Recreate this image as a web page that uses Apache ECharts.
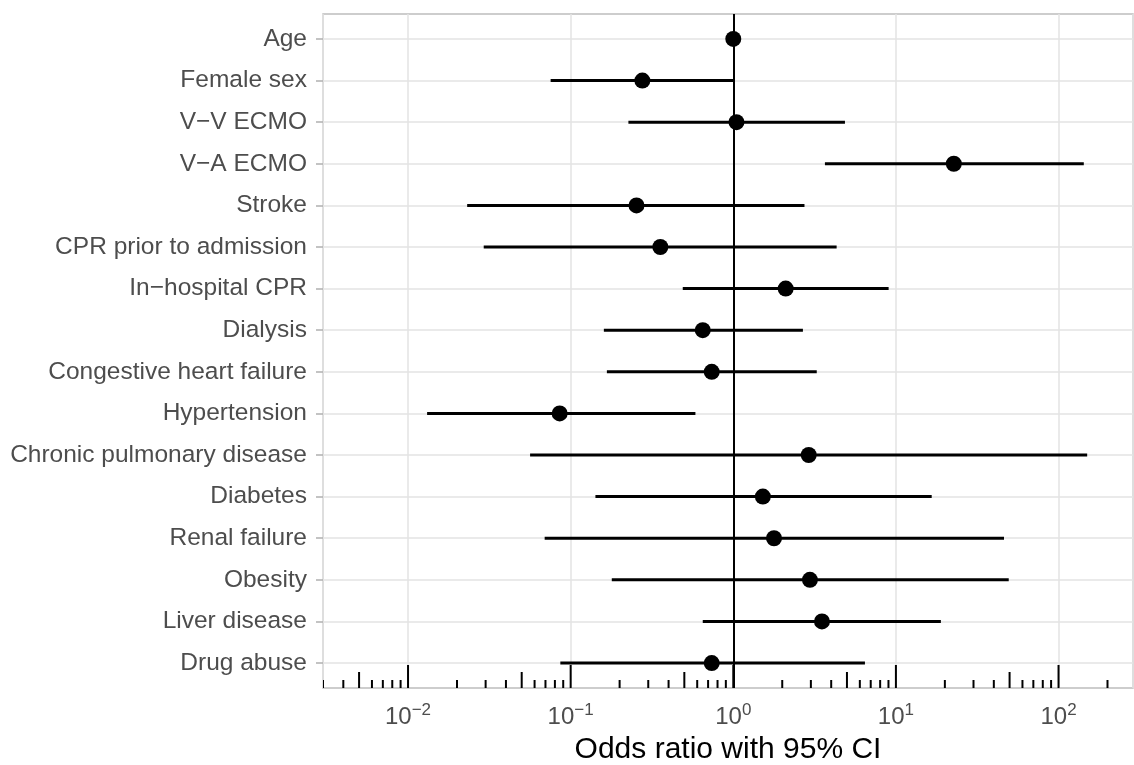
<!DOCTYPE html>
<html>
<head>
<meta charset="utf-8">
<script src="https://cdn.jsdelivr.net/npm/echarts@6.0.0/dist/echarts.min.js"></script>
<style>
  html, body { margin: 0; background: #fff; }
  #chart { width: 1134px; height: 765px; }
</style>
</head>
<body>
<div id="chart"></div>
<script>
// 数据
var categories = ['Age', 'Female sex', 'V\u2212V ECMO', 'V\u2212A ECMO', 'Stroke', 'CPR prior to admission',
  'In\u2212hospital CPR', 'Dialysis', 'Congestive heart failure', 'Hypertension', 'Chronic pulmonary disease',
  'Diabetes', 'Renal failure', 'Obesity', 'Liver disease', 'Drug abuse'];
var oddsRatio = [1.0, 0.276, 1.046, 22.7, 0.254, 0.356, 2.10, 0.649, 0.737, 0.0856, 2.91, 1.52, 1.78, 2.96, 3.51, 0.737];
var ciLow = [0.985, 0.0753, 0.2265, 3.66, 0.0231, 0.0292, 0.489, 0.160, 0.167, 0.0131, 0.0563, 0.142, 0.0692, 0.179, 0.649, 0.0864];
var ciHigh = [1.015, 1.003, 4.86, 143, 2.74, 4.32, 9.02, 2.68, 3.26, 0.585, 150, 16.6, 46.2, 49.4, 18.9, 6.45];
var decadeExponents = [-3, -2, -1, 0, 1, 2];
var tickMultipliers = [1, 2, 3, 4, 5, 6, 7, 8, 9];

var xMin = 0.003, xMax = 287;
var font = '"Liberation Sans", Arial, Helvetica, sans-serif';

var rowIdx = categories.map(function (c, i) { return i; });

// log ticks (annotation_logticks)
var logTicks = [];
decadeExponents.forEach(function (e) {
  tickMultipliers.forEach(function (m) {
    var v = m * Math.pow(10, e);
    if (v >= xMin * 0.999 && v <= xMax) logTicks.push([v, m]);
  });
});

var myChart = echarts.init(document.getElementById('chart'));

myChart.setOption({
  animation: false,
  grid: {
    left: 323, top: 14, width: 810, bottom: 77,
    outerBoundsMode: 'none', containLabel: false,
    show: true, borderColor: '#bdbdbd', borderWidth: 1.5, backgroundColor: '#fff'
  },
  xAxis: {
    type: 'log', logBase: 10, min: xMin, max: xMax,
    name: 'Odds ratio with 95% CI', nameLocation: 'middle', nameGap: 46,
    nameTextStyle: { fontSize: 30, color: '#000', fontFamily: font },
    axisLine: { show: false },
    axisTick: { show: false },
    axisLabel: {
      margin: 14,
      formatter: function (v) {
        var l = Math.log10(v);
        var e = Math.round(l);
        if (Math.abs(l - e) > 1e-6) return '';
        return '{b|10}{s|' + (e < 0 ? '\u2212' + (-e) : e) + '}';
      },
      rich: {
        b: { fontSize: 24, color: '#4d4d4d', fontFamily: font },
        s: { fontSize: 17, color: '#4d4d4d', fontFamily: font, padding: [0, 0, 14, 0] }
      }
    },
    splitLine: { show: true, lineStyle: { color: '#e3e3e3', width: 1.5 } }
  },
  yAxis: {
    type: 'value', inverse: true, min: -0.6, max: 15.6,
    axisLine: { show: false },
    axisTick: { show: true, length: 7, customValues: rowIdx, lineStyle: { color: '#b0b0b0', width: 1.5 } },
    axisLabel: {
      customValues: rowIdx, margin: 16, fontSize: 24.5, color: '#4d4d4d', fontFamily: font,
      formatter: function (v) { return categories[Math.round(v)] || ''; }
    },
    splitLine: { show: true, lineStyle: { color: '#e3e3e3', width: 1.5 } }
  },
  series: [
    {
      // log ticks along the bottom
      type: 'custom',
      data: logTicks,
      encode: { x: 0 },
      clip: true,
      z: 3,
      renderItem: function (params, api) {
        var x = api.coord([api.value(0), 0])[0];
        var bottom = params.coordSys.y + params.coordSys.height;
        var m = api.value(1);
        var len = m === 1 ? 23 : (m === 5 ? 16 : 8);
        return {
          type: 'line',
          shape: { x1: x, y1: bottom, x2: x, y2: bottom - len },
          style: { stroke: '#000', lineWidth: 2 }
        };
      }
    },
    {
      // 95% CI
      type: 'custom',
      data: ciLow.map(function (l, i) { return [l, ciHigh[i], i]; }),
      encode: { x: [0, 1], y: 2 },
      z: 4,
      renderItem: function (params, api) {
        var a = api.coord([api.value(0), api.value(2)]);
        var b = api.coord([api.value(1), api.value(2)]);
        return {
          type: 'line',
          shape: { x1: a[0], y1: a[1], x2: b[0], y2: b[1] },
          style: { stroke: '#000', lineWidth: 3 }
        };
      }
    },
    {
      type: 'scatter',
      data: oddsRatio.map(function (v, i) { return [v, i]; }),
      symbol: 'circle',
      symbolSize: 16,
      itemStyle: { color: '#000', opacity: 1 },
      z: 5,
      markLine: {
        silent: true,
        symbol: ['none', 'none'],
        label: { show: false },
        lineStyle: { color: '#000', width: 2, type: 'solid', opacity: 1 },
        data: [{ xAxis: 1 }]
      }
    }
  ]
});

window.onresize = function () {
  myChart.resize();
};
</script>
</body>
</html>
